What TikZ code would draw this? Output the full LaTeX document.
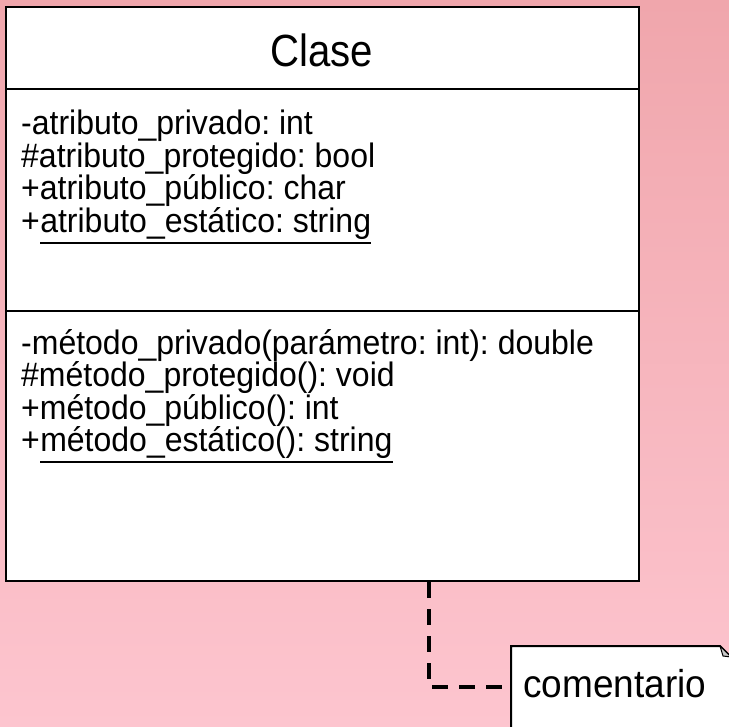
\documentclass[tikz,border=0pt]{standalone}
\usepackage{fontspec}
\setmainfont{Liberation Sans}
\frenchspacing
\definecolor{bgtop}{RGB}{240,166,172}
\definecolor{bgbot}{RGB}{253,197,207}
\definecolor{foldgray}{RGB}{200,200,200}
\begin{document}
\begin{tikzpicture}[x=1pt,y=-1pt,
  classbox/.style={draw=black,line width=2pt,fill=white,inner sep=0pt,anchor=north west},
  divider/.style={draw=black,line width=2pt},
  member/.style={inner sep=0pt,anchor=base west,font=\fontsize{32}{38}\selectfont\frenchspacing},
  titletxt/.style={inner sep=0pt,anchor=base,font=\fontsize{41}{48}\selectfont},
  notetxt/.style={inner sep=0pt,anchor=base west,font=\fontsize{37}{44}\selectfont},
  notebox/.style={inner sep=0pt,anchor=north west,minimum width=225pt,minimum height=110pt},
  ulinestyle/.style={line width=1.6pt},
  notelink/.style={draw=black,line width=3.5pt,dash pattern=on 16pt off 11pt}]
\useasboundingbox (0,0) rectangle (729,727);
\shade[top color=bgtop,bottom color=bgbot] (0,0) rectangle (729,727);

% class box
\node[classbox,minimum width=633pt,minimum height=574pt] (clase) at (5,6) {};
\draw[divider] (clase.west |- 0,89) -- (clase.east |- 0,89);
\draw[divider] (clase.west |- 0,311) -- (clase.east |- 0,311);
\node[titletxt] (title) at (321.5,67) {\scalebox{0.98}[1.1]{Clase}};

% attributes
\node[member] (a1) at (21,135) {\scalebox{1}[1.06]{-atributo\_privado: int}};
\node[member] (a2) at (21,168) {\scalebox{1}[1.06]{\#atributo\_protegido: bool}};
\node[member] (a3) at (21,200) {\scalebox{1}[1.06]{+atributo\_público: char}};
\node[member] (a4p) at (21,233) {\scalebox{1}[1.06]{+}};
\node[member] (a4) at (a4p.base east) {\scalebox{1}[1.06]{atributo\_estático: string}};
\draw[ulinestyle] ([yshift=-10pt]a4.base west) -- ([yshift=-10pt]a4.base east);

% methods
\node[member] (m1) at (21,355) {\scalebox{1}[1.06]{-método\_privado(parámetro: int): double}};
\node[member] (m2) at (21,387) {\scalebox{1}[1.06]{\#método\_protegido(): void}};
\node[member] (m3) at (21,420) {\scalebox{1}[1.06]{+método\_público(): int}};
\node[member] (m4p) at (21,452) {\scalebox{1}[1.06]{+}};
\node[member] (m4) at (m4p.base east) {\scalebox{1}[1.06]{método\_estático(): string}};
\draw[ulinestyle] ([yshift=-10pt]m4.base west) -- ([yshift=-10pt]m4.base east);

% note
\node[notebox] (note) at (511,646) {};
\fill[white,draw=black,line width=2pt,line join=miter]
  (note.north west) -- (720,646) -- (731,657) -- (note.south east |- 0,780) -- (note.west |- 0,780) -- cycle;
\fill[foldgray,draw=black,line width=1pt,line join=round]
  (720,646) -- (723,656) -- (731,657) -- cycle;
\node[notetxt] (ctext) at (523,697) {\scalebox{1}[1.05]{comentario}};

% connector
\coordinate (bend) at (429,687);
\draw[notelink] (clase.south -| bend) -- (bend) -- (note.west |- bend);
\end{tikzpicture}
\end{document}
